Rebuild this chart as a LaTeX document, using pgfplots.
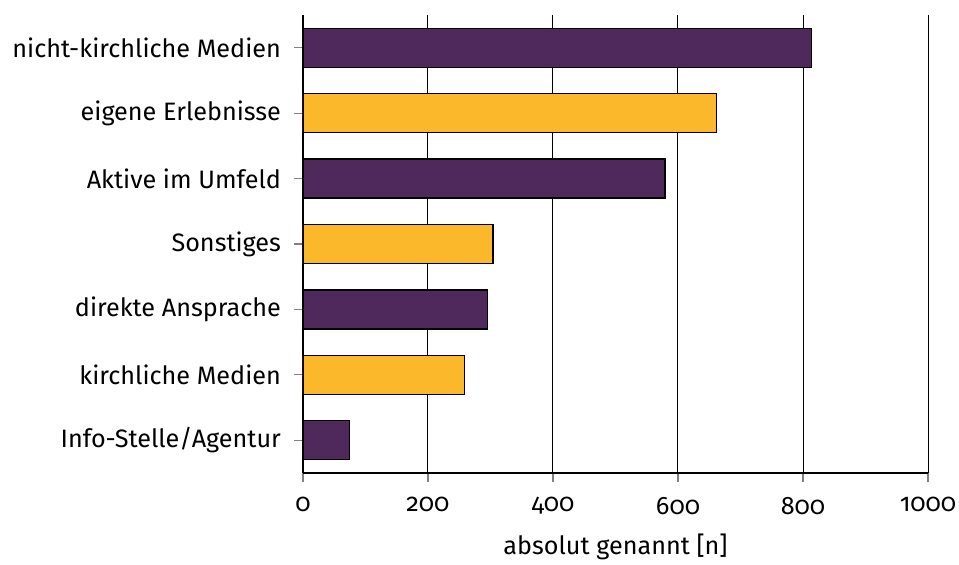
\documentclass[border=0pt]{standalone}
\usepackage{pgfplots}
\pgfplotsset{compat=1.18}
\usepackage{fontspec}
\setmainfont{Fira Sans}[Numbers=OldStyle]
\definecolor{lila}{HTML}{4F295B}
\definecolor{gelb}{HTML}{FBB82B}

\begin{document}
\begin{tikzpicture}[font=\fontsize{12.6}{15}\selectfont]
\useasboundingbox (-151.5pt,-45.5pt) rectangle (328pt,236.5pt);
\begin{axis}[
    scale only axis,
    width=312.5pt, height=229pt,
    xbar, bar width=19.5pt, bar shift=0pt,
    xmin=0, xmax=1000,
    ymin=-0.5, ymax=6.5,
    axis x line*=bottom,
    axis y line*=left,
    axis line style={black, line width=0.8pt},
    xtick={0,200,400,600,800,1000},
    ytick={0,1,2,3,4,5,6},
    yticklabels={Info-Stelle/Agentur, kirchliche Medien, direkte Ansprache, Sonstiges, Aktive im Umfeld, eigene Erlebnisse, nicht-kirchliche Medien},
    tick align=outside,
    major tick length=4.5pt,
    tick style={gray, line width=0.6pt},
    xmajorgrids, grid style={black, line width=0.5pt},
    /pgf/number format/assume math mode=true,
    /pgf/number format/1000 sep={},
    xticklabel style={yshift=-4pt},
    yticklabel style={xshift=-3pt},
    xlabel={absolut genannt [n]},
    xlabel style={yshift=-3pt},
]
% violette Balken
\addplot[fill=lila, draw=black, line width=0.7pt] coordinates {
(74,0) (295,2) (579,4) (814,6)
};
% gelbe Balken
\addplot[fill=gelb, draw=black, line width=0.7pt] coordinates {
(258,1) (304,3) (662,5)
};
\end{axis}
\end{tikzpicture}
\end{document}
